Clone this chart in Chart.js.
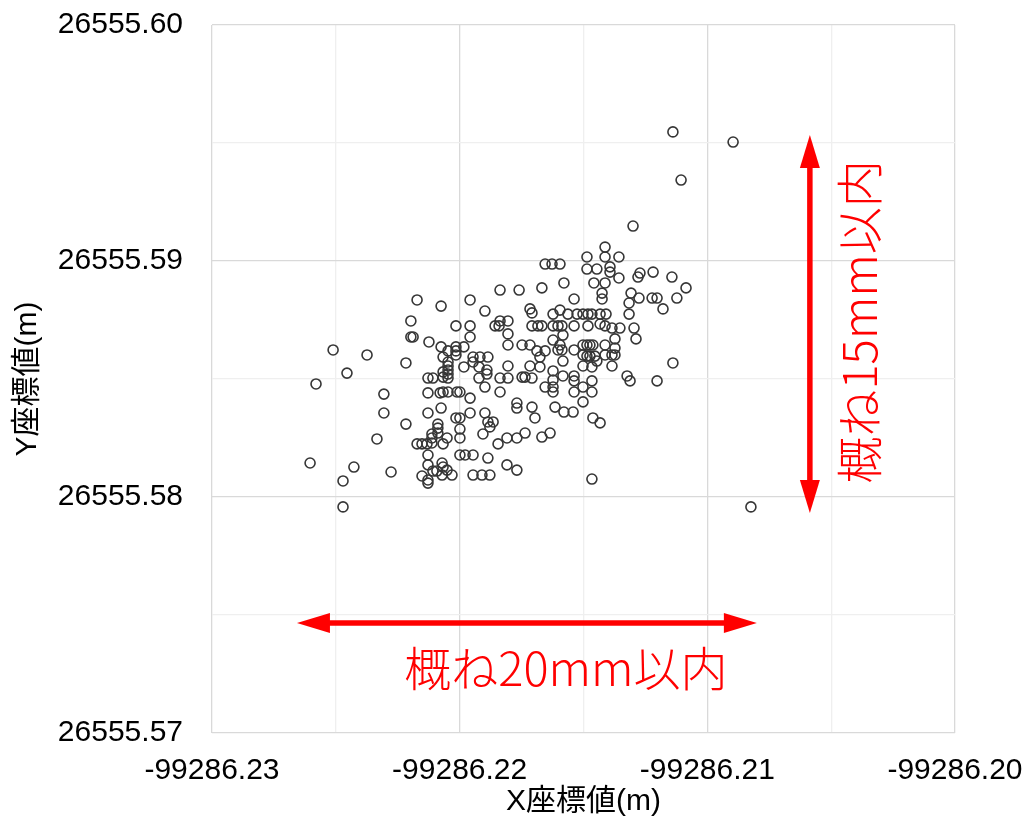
<!DOCTYPE html>
<html>
<head>
<meta charset="utf-8">
<script src="https://cdn.jsdelivr.net/npm/chart.js@4"></script>
<style>
  html, body { margin: 0; padding: 0; background: #ffffff; }
  #wrap { width: 1027px; height: 820px; }
</style>
</head>
<body>
<div id="wrap"><canvas id="c" width="1027" height="820"></canvas></div>
<script>
// ---- data (metres) ----
const xValues = [
  -99286.22511,-99286.22374,-99286.22455,-99286.22580,-99286.22306,-99286.22306,-99286.22334,-99286.22604,-99286.22427,-99286.22277,-99286.22471,-99286.22471,
  -99286.22172,-99286.22075,-99286.21958,-99286.21837,-99286.21760,-99286.21898,-99286.22197,-99286.22015,-99286.21958,-99286.21857,-99286.21841,-99286.21837,
  -99286.21805,-99286.22197,-99286.22188,-99286.22124,-99286.21958,-99286.21805,-99286.21805,-99286.22075,-99286.22047,-99286.22015,-99286.22015,-99286.22015,
  -99286.21983,-99286.22067,-99286.22047,-99286.22047,-99286.22047,-99286.22047,-99286.22047,-99286.22067,-99286.22067,-99286.22217,-99286.22128,-99286.22108,
  -99286.21983,-99286.21946,-99286.21946,-99286.21918,-99286.21886,-99286.21922,-99286.21890,-99286.21890,-99286.21922,-99286.21837,-99286.21805,-99286.21805,
  -99286.21898,
  -99286.22128,-99286.22079,-99286.22067,-99286.22047,-99286.22011,-99286.21999,-99286.21837,-99286.21958,-99286.21769,-99286.21769,-99286.22128,-99286.22075,
  -99286.22015,-99286.21999,-99286.21958,-99286.21898,-99286.22217,-99286.22088,-99286.22088,-99286.22088,-99286.21886,-99286.21865,-99286.21878,-99286.21906,
  -99286.21999,-99286.21999,-99286.22112,-99286.22112,-99286.22051,-99286.22172,-99286.22152,-99286.22132,-99286.22112,-99286.22067,-99286.21809,-99286.21769,
  -99286.21845,-99286.22128,-99286.21999,-99286.21978,-99286.21946,-99286.21886,-99286.22128,-99286.22071,-99286.22067,-99286.22051,-99286.22031,-99286.22108,
  -99286.22092,-99286.22152,-99286.22128,-99286.22128,-99286.22071,-99286.21946,-99286.21910,-99286.21878,-99286.21809,-99286.21769,
  -99286.21139,-99286.20896,-99286.21106,-99286.21300,-99286.21413,-99286.21486,-99286.21413,-99286.21357,-99286.21655,-99286.21627,-99286.21595,-99286.21486,
  -99286.21446,-99286.21393,-99286.21393,-99286.21357,-99286.21272,-99286.21280,-99286.21219,-99286.21143,-99286.21458,-99286.21413,-99286.21579,-99286.21668,
  -99286.21086,-99286.21425,-99286.21425,-99286.21308,-99286.21276,-99286.21316,-99286.21223,-99286.21203,-99286.21123,-99286.21538,-99286.21179,-99286.21316,
  -99286.21716,-99286.21708,-99286.21623,-99286.21595,-99286.21563,-99286.21526,-99286.21502,-99286.21482,-99286.21466,-99286.21433,-99286.21409,
  -99286.21708,-99286.21684,-99286.21668,-99286.21623,-99286.21603,-99286.21587,-99286.21538,-99286.21482,-99286.21433,-99286.21413,-99286.21385,-99286.21353,
  -99286.21296,-99286.21583,-99286.21623,-99286.21373,-99286.21288,
  -99286.21748,-99286.21716,-99286.21595,-99286.21603,-99286.21587,-99286.21538,-99286.21502,-99286.21486,-99286.21474,-99286.21462,-99286.21413,-99286.21373,
  -99286.21373,-99286.21688,-99286.21655,-99286.21676,-99286.21502,-99286.21486,-99286.21474,-99286.21454,-99286.21413,-99286.21385,
  -99286.21583,-99286.21716,-99286.21676,-99286.21502,-99286.21466,-99286.21446,-99286.21385,-99286.21139,-99286.21623,-99286.21748,-99286.21736,-99286.21708,
  -99286.21583,-99286.21538,-99286.21538,-99286.21623,-99286.21623,-99286.21623,-99286.21655,-99286.21466,-99286.21502,-99286.21466,-99286.21538,-99286.21324,
  -99286.21312,-99286.21203,
  -99286.21502,-99286.21708,-99286.21615,-99286.21579,-99286.21542,-99286.21696,-99286.21462,-99286.21433,-99286.21736,-99286.21668,-99286.21635,-99286.21466,
  -99286.20824
];
const yValues = [
  26555.58623,26555.58602,26555.58525,26555.58479,26555.58436,26555.58356,26555.58246,26555.58144,26555.58127,26555.58106,26555.58068,26555.57958,
  26555.58835,26555.58809,26555.58835,26555.58877,26555.58877,26555.58788,26555.58746,26555.58725,26555.58725,26555.58725,26555.58725,26555.58746,
  26555.58746,26555.58678,26555.58678,26555.58657,26555.58678,26555.58691,26555.58644,26555.58636,26555.58619,26555.58636,26555.58619,26555.58602,
  26555.58636,26555.58593,26555.58572,26555.58555,26555.58538,26555.58521,26555.58504,26555.58530,26555.58508,26555.58568,26555.58504,26555.58504,
  26555.58551,26555.58593,26555.58572,26555.58593,26555.58593,26555.58551,26555.58538,26555.58521,26555.58504,26555.58504,26555.58504,26555.58555,
  26555.58466,
  26555.58441,26555.58441,26555.58445,26555.58445,26555.58445,26555.58445,26555.58445,26555.58419,26555.58398,26555.58377,26555.58356,26555.58377,
  26555.58335,26555.58335,26555.58356,26555.58356,26555.58309,26555.58309,26555.58292,26555.58271,26555.58318,26555.58318,26555.58297,26555.58267,
  26555.58288,26555.58250,26555.58267,26555.58250,26555.58250,26555.58225,26555.58225,26555.58225,26555.58229,26555.58225,26555.58250,26555.58250,
  26555.58225,26555.58178,26555.58178,26555.58178,26555.58178,26555.58165,26555.58136,26555.58144,26555.58127,26555.58114,26555.58093,26555.58110,
  26555.58110,26555.58089,26555.58072,26555.58059,26555.58093,26555.58093,26555.58093,26555.58093,26555.58136,26555.58114,
  26555.59547,26555.59504,26555.59343,26555.59148,26555.59059,26555.59017,26555.59017,26555.59017,26555.58987,26555.58987,26555.58987,26555.58966,
  26555.58966,26555.58975,26555.58953,26555.58928,26555.58949,26555.58932,26555.58953,26555.58932,26555.58907,26555.58907,26555.58907,26555.58886,
  26555.58886,26555.58864,26555.58839,26555.58864,26555.58843,26555.58822,26555.58843,26555.58843,26555.58843,26555.58839,26555.58797,26555.58775,
  26555.58797,26555.58780,26555.58775,26555.58792,26555.58775,26555.58775,26555.58775,26555.58775,26555.58775,26555.58775,26555.58775,
  26555.58725,26555.58725,26555.58725,26555.58725,26555.58725,26555.58725,26555.58725,26555.58725,26555.58733,26555.58725,26555.58716,26555.58716,
  26555.58716,26555.58686,26555.58665,26555.58670,26555.58670,
  26555.58644,26555.58644,26555.58644,26555.58623,26555.58623,26555.58623,26555.58644,26555.58644,26555.58644,26555.58644,26555.58644,26555.58631,
  26555.58602,26555.58619,26555.58619,26555.58593,26555.58602,26555.58597,26555.58597,26555.58597,26555.58602,26555.58602,
  26555.58576,26555.58555,26555.58551,26555.58555,26555.58551,26555.58576,26555.58555,26555.58568,26555.58534,26555.58508,26555.58508,26555.58504,
  26555.58513,26555.58513,26555.58492,26555.58496,26555.58466,26555.58445,26555.58466,26555.58492,26555.58466,26555.58445,26555.58445,26555.58513,
  26555.58492,26555.58492,
  26555.58403,26555.58381,26555.58381,26555.58360,26555.58360,26555.58335,26555.58335,26555.58314,26555.58271,26555.58254,26555.58271,26555.58076,
  26555.57958
];

// ---- axes ----
const xTickValues = [-99286.23,-99286.225,-99286.22,-99286.215,-99286.21,-99286.205,-99286.20];
const xTickLabels = ['-99286.23','','-99286.22','','-99286.21','','-99286.20'];
const yTickValues = [26555.57,26555.575,26555.58,26555.585,26555.59,26555.595,26555.60];
const yTickLabels = ['26555.57','','26555.58','','26555.59','','26555.60'];
const xTitle = 'X座標値(m)';
const yTitle = 'Y座標値(m)';

// ---- annotations (in data units) ----
const arrowHX = [-99286.22657, -99286.20800];
const arrowHY = 26555.57466;
const arrowVX = -99286.20586;
const arrowVY = [26555.59534, 26555.57932];
const labelH = { text: '概ね20mm以内', x: -99286.21571, y: 26555.57275 };
const labelV = { text: '概ね15mm以内', x: -99286.20388, y: 26555.58742 };

const points = xValues.map((x, i) => ({ x: x, y: yValues[i] }));

const MAJOR = '#d9d9d9', MINOR = '#efefef';
const FONT = "'Liberation Sans', Arial, 'Noto Sans CJK JP', sans-serif";

function arrowHead(ctx, tipX, tipY, dirX, dirY, len, half) {
  const bx = tipX - dirX * len, by = tipY - dirY * len;
  const px = -dirY, py = dirX;
  ctx.beginPath();
  ctx.moveTo(tipX, tipY);
  ctx.lineTo(bx + px * half, by + py * half);
  ctx.lineTo(bx - px * half, by - py * half);
  ctx.closePath();
  ctx.fill();
}

const annotationPlugin = {
  id: 'annot',
  afterDatasetsDraw(chart) {
    const ctx = chart.ctx, xs = chart.scales.x, ys = chart.scales.y;
    const red = '#ff0000';
    const L = 33, H = 10;
    ctx.save();
    ctx.strokeStyle = red; ctx.fillStyle = red; ctx.lineWidth = 5.5;
    // horizontal arrow
    const hx1 = xs.getPixelForValue(arrowHX[0]), hx2 = xs.getPixelForValue(arrowHX[1]);
    const hy = ys.getPixelForValue(arrowHY);
    ctx.beginPath(); ctx.moveTo(hx1 + L - 2, hy); ctx.lineTo(hx2 - L + 2, hy); ctx.stroke();
    arrowHead(ctx, hx1, hy, -1, 0, L, H);
    arrowHead(ctx, hx2, hy, 1, 0, L, H);
    // vertical arrow
    const vx = xs.getPixelForValue(arrowVX);
    const vy1 = ys.getPixelForValue(arrowVY[0]), vy2 = ys.getPixelForValue(arrowVY[1]);
    ctx.beginPath(); ctx.moveTo(vx, vy1 + L - 2); ctx.lineTo(vx, vy2 - L + 2); ctx.stroke();
    arrowHead(ctx, vx, vy1, 0, -1, L, H);
    arrowHead(ctx, vx, vy2, 0, 1, L, H);
    // labels
    ctx.font = "300 47px 'Noto Sans CJK JP', sans-serif";
    ctx.textAlign = 'center'; ctx.textBaseline = 'middle';
    ctx.fillText(labelH.text, xs.getPixelForValue(labelH.x), ys.getPixelForValue(labelH.y));
    ctx.translate(xs.getPixelForValue(labelV.x), ys.getPixelForValue(labelV.y));
    ctx.rotate(-Math.PI / 2);
    ctx.fillText(labelV.text, 0, 0);
    ctx.restore();
  }
};

new Chart(document.getElementById('c'), {
  type: 'scatter',
  data: {
    datasets: [{
      data: points,
      pointStyle: 'circle',
      pointRadius: 5,
      pointHoverRadius: 5,
      pointBorderWidth: 1.6,
      pointBorderColor: '#363636',
      pointBackgroundColor: 'rgba(0,0,0,0)',
      showLine: false
    }]
  },
  options: {
    responsive: false,
    animation: false,
    devicePixelRatio: 1,
    layout: { padding: { left: 0, right: 72, top: 25, bottom: 0 } },
    plugins: { legend: { display: false }, tooltip: { enabled: false } },
    scales: {
      x: {
        type: 'linear',
        min: xTickValues[0], max: xTickValues[xTickValues.length - 1],
        afterBuildTicks: s => { s.ticks = xTickValues.map(v => ({ value: v })); },
        afterFit: s => { s.height = 87; s.paddingLeft = 0; s.paddingRight = 0; },
        border: { display: false },
        grid: {
          drawTicks: false,
          color: c => (c.index % 2 === 0 ? MAJOR : MINOR),
          lineWidth: 1.3
        },
        ticks: {
          autoSkip: false, maxRotation: 0, minRotation: 0, padding: 20,
          color: '#000000',
          font: { family: FONT, size: 30 },
          callback: (v, i) => xTickLabels[i]
        },
        title: {
          display: true, text: xTitle, color: '#000000',
          font: { family: FONT, size: 30 },
          padding: { top: 0, bottom: 0 }
        }
      },
      y: {
        type: 'linear',
        min: yTickValues[0], max: yTickValues[yTickValues.length - 1],
        afterBuildTicks: s => { s.ticks = yTickValues.map(v => ({ value: v })); },
        afterFit: s => { s.width = 212; s.paddingTop = 0; s.paddingBottom = 0; },
        border: { display: false },
        grid: {
          drawTicks: false,
          color: c => (c.index % 2 === 0 ? MAJOR : MINOR),
          lineWidth: 1.3
        },
        ticks: {
          autoSkip: false, padding: 29,
          color: '#000000',
          font: { family: FONT, size: 30 },
          callback: (v, i) => yTickLabels[i]
        },
        title: {
          display: true, text: yTitle, color: '#000000',
          font: { family: FONT, size: 30 },
          padding: { top: 10, bottom: 0 }
        }
      }
    }
  },
  plugins: [annotationPlugin]
});
</script>
</body>
</html>
